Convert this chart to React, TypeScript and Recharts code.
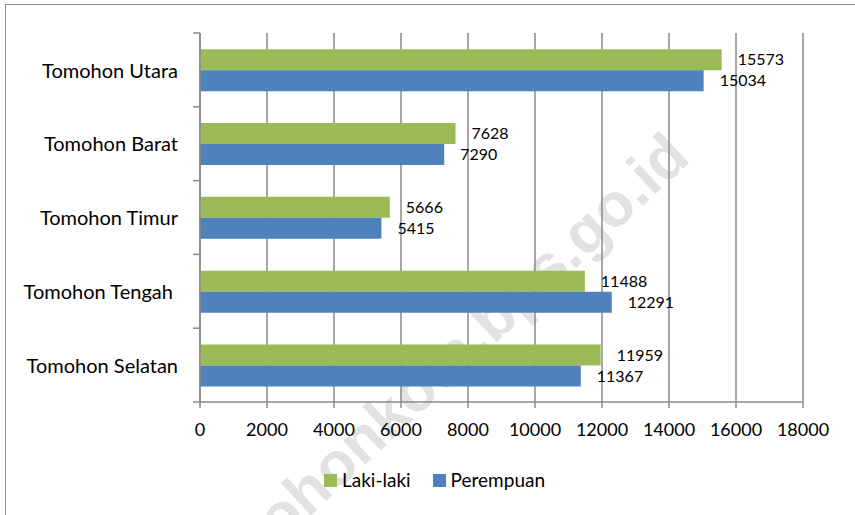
import React from "react";
import {
  BarChart,
  Bar,
  XAxis,
  YAxis,
  CartesianGrid,
  Legend,
  LabelList,
} from "recharts";

const categories = [
  "Tomohon Utara",
  "Tomohon Barat",
  "Tomohon Timur",
  "Tomohon Tengah ",
  "Tomohon Selatan",
];
const lakiLaki = [15573, 7628, 5666, 11488, 11959];
const perempuan = [15034, 7290, 5415, 12291, 11367];
const xTicks = [0, 2000, 4000, 6000, 8000, 10000, 12000, 14000, 16000, 18000];
const seriesNames = { laki: "Laki-laki", perempuan: "Perempuan" };
const watermarkText = "tomohonkota.bps.go.id";

const data = categories.map((name, i) => ({
  name,
  laki: lakiLaki[i],
  perempuan: perempuan[i],
}));

const GREEN = "#9BBB59";
const BLUE = "#4F81BD";
const GRID = "#8a8a8a";
const FONT = "Lato, 'Open Sans', sans-serif";
const Y_TICK_SIZE = 7;
const Y_TICK_MARGIN = 15;

const CategoryTick = (props: any) => {
  const { x, y, payload, index, visibleTicksCount } = props;
  const half = payload && typeof payload.offset === "number" ? payload.offset : 0;
  const lx1 = x + Y_TICK_MARGIN;
  const lx2 = x + Y_TICK_MARGIN + Y_TICK_SIZE;
  return (
    <g>
      <text
        x={x}
        y={y}
        dy="0.38em"
        textAnchor="end"
        fill="#000"
        fontSize={20}
        fontFamily={FONT}
        style={{ whiteSpace: "pre" }}
      >
        {payload.value}
      </text>
      <line x1={lx1} x2={lx2} y1={y - half} y2={y - half} stroke={GRID} strokeWidth={1.5} />
      {index === visibleTicksCount - 1 && (
        <line x1={lx1} x2={lx2} y1={y + half} y2={y + half} stroke={GRID} strokeWidth={1.5} />
      )}
    </g>
  );
};

const LegendContent = (props: any) => {
  const { payload } = props;
  return (
    <div style={{ display: "flex", alignItems: "center", height: 20, fontFamily: FONT, fontSize: 19, color: "#000" }}>
      {(payload || []).map((p: any, i: number) => (
        <div key={i} style={{ display: "flex", alignItems: "center", marginRight: 22 }}>
          <span style={{ display: "inline-block", width: 13, height: 13, background: p.color, marginRight: 5 }} />
          <span style={{ lineHeight: "20px" }}>{p.value}</span>
        </div>
      ))}
    </div>
  );
};

export default function App() {
  return (
    <div
      style={{
        position: "absolute",
        left: 0,
        top: 0,
        width: 855,
        height: 515,
        overflow: "hidden",
        background: "#fff",
      }}
    >
      <div
        style={{
          position: "absolute",
          left: 5,
          top: 4,
          width: 900,
          height: 600,
          border: "1px solid #8c8c8c",
          boxSizing: "border-box",
        }}
      />
      <svg
        width={855}
        height={515}
        style={{ position: "absolute", left: 0, top: 0 }}
      >
        <text
          x={692}
          y={160}
          textAnchor="end"
          transform="rotate(-43 692 160)"
          fontFamily="'Liberation Sans', Arial, sans-serif"
          fontWeight="bold"
          fontSize={61}
          fill="#e2e2e2"
        >
          {watermarkText}
        </text>
      </svg>
      <div style={{ position: "absolute", left: 0, top: 0 }}>
        <BarChart
          width={855}
          height={515}
          layout="vertical"
          data={data}
          margin={{ top: 33, right: 52, bottom: 83, left: 0 }}
          barCategoryGap="22%"
          barGap={0}
        >
          <CartesianGrid vertical={true} horizontal={false} stroke={GRID} strokeWidth={1.5} />
          <XAxis
            type="number"
            domain={[0, 18000]}
            ticks={xTicks}
            interval={0}
            height={30}
            tickSize={6}
            tickMargin={15}
            axisLine={{ stroke: GRID, strokeWidth: 1.5 }}
            tickLine={{ stroke: GRID, strokeWidth: 1.5 }}
            tick={{ fill: "#000", fontSize: 18, fontFamily: FONT }}
          />
          <YAxis
            type="category"
            dataKey="name"
            width={200}
            tickLine={false}
            tickSize={Y_TICK_SIZE}
            tickMargin={Y_TICK_MARGIN}
            axisLine={{ stroke: GRID, strokeWidth: 1.5 }}
            tick={<CategoryTick />}
            interval={0}
          />
          <Legend
            layout="horizontal"
            align="center"
            verticalAlign="middle"
            wrapperStyle={{ left: 324, top: 470, width: 300, height: 20 }}
            content={<LegendContent />}
          />
          <Bar dataKey="laki" name={seriesNames.laki} fill={GREEN} isAnimationActive={false}>
            <LabelList dataKey="laki" position="right" offset={16} fill="#000" fontSize={16} fontFamily={FONT} />
          </Bar>
          <Bar dataKey="perempuan" name={seriesNames.perempuan} fill={BLUE} isAnimationActive={false}>
            <LabelList dataKey="perempuan" position="right" offset={16} fill="#000" fontSize={16} fontFamily={FONT} />
          </Bar>
        </BarChart>
      </div>
    </div>
  );
}
